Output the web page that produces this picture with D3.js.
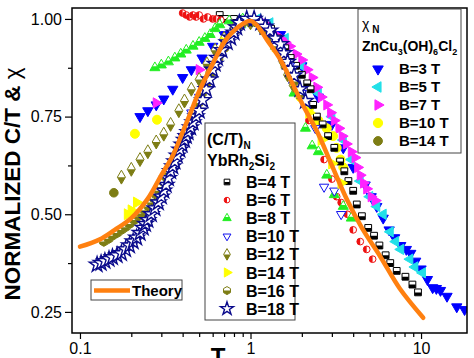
<!DOCTYPE html>
<html>
<head>
<meta charset="utf-8">
<script src="https://cdn.jsdelivr.net/npm/d3@7"></script>
<style>
  body { margin: 0; background: #fff; }
  svg text { font-family: "Liberation Sans", Arial, sans-serif; }
</style>
</head>
<body>
<div id="chart"></div>
<script>
// ---- data (T/T*, normalized value) ----
var xTicks = [0.1, 1, 10];
var xMinor = [0.2,0.3,0.4,0.5,0.6,0.7,0.8,0.9,2,3,4,5,6,7,8,9];
var yTicks = [0.25, 0.5, 0.75, 1.0];
var yMinor = [0.375, 0.625, 0.875];

var theoryT = [0.1,0.13,0.16,0.2,0.25,0.3,0.35,0.4,0.45,0.5,0.6,0.7,0.8,0.9,1.0,1.1,1.25,1.5,2.0,2.5,3.0,3.7,4.5,5.8,7.5,10.3];
var theoryY = [0.417,0.435,0.46,0.49,0.54,0.60,0.65,0.71,0.765,0.815,0.885,0.94,0.97,0.987,0.995,0.982,0.946,0.895,0.785,0.705,0.625,0.535,0.465,0.39,0.31,0.235];

// YbRh2Si2 (C/T)_N
var yb4 = [[0.66,1.01],[0.72,1.0],[0.8,1.0],[0.9,1.0],[1.0,0.995],[1.1,0.99],[1.2,0.985],[1.32,0.975],[1.45,0.95],[1.6,0.925],[1.72,0.90],[1.85,0.88],[2.0,0.857],[2.15,0.835],[2.25,0.82],[2.33,0.78],[2.45,0.75],[2.65,0.73],[2.85,0.70],[3.1,0.67],[3.35,0.635],[3.55,0.61],[3.75,0.585],[4.0,0.56],[4.2,0.525],[4.5,0.495],[4.9,0.465],[5.3,0.445],[5.7,0.42],[6.2,0.395],[6.6,0.375],[7.2,0.355],[8.1,0.34],[8.9,0.32],[9.6,0.30]];
var yb6 = [[0.40,1.015],[0.42,1.01],[0.44,1.005],[0.46,1.01],[0.48,1.005],[0.5,1.01],[0.53,1.0],[0.56,1.005],[0.6,1.0],[0.63,1.0],[0.67,0.997],[0.75,0.995],[0.9,0.995],[1.0,0.99],[1.3,0.95],[1.7,0.86],[2.2,0.74],[2.7,0.64],[3.0,0.59],[3.2,0.545],[3.4,0.53],[3.7,0.50],[4.0,0.46],[4.4,0.43],[4.8,0.41],[5.2,0.385]];
var yb8 = [[0.275,0.875],[0.3,0.882],[0.33,0.89],[0.36,0.90],[0.39,0.91],[0.42,0.92],[0.46,0.93],[0.5,0.94],[0.54,0.95],[0.58,0.96],[0.62,0.975],[0.66,0.985],[0.75,0.995],[0.9,1.0],[1.1,0.99],[1.4,0.93],[1.8,0.81],[2.1,0.72],[2.3,0.675],[2.5,0.66],[2.8,0.60],[3.1,0.55],[3.5,0.52],[3.9,0.49]];
var yb10 = [[0.3,0.56],[0.35,0.63],[0.4,0.70],[0.45,0.76],[0.5,0.80],[0.55,0.84],[0.6,0.88],[0.7,0.94],[0.8,0.97],[0.9,0.99],[1.0,1.0],[1.15,0.99],[1.3,0.965],[1.5,0.92],[1.7,0.88],[2.0,0.81],[2.4,0.72],[2.7,0.57],[3.1,0.56],[3.4,0.50]];
var yb12 = [[0.175,0.595],[0.2,0.615],[0.225,0.64],[0.25,0.66],[0.28,0.685],[0.31,0.705],[0.34,0.73],[0.38,0.765],[0.41,0.79],[0.45,0.82],[0.5,0.845],[0.555,0.885],[0.62,0.92],[0.7,0.95],[0.8,0.975],[0.9,0.99],[1.0,0.99],[1.15,0.977],[1.3,0.96],[1.43,0.94],[1.55,0.89],[1.65,0.857],[1.78,0.83],[1.96,0.805]];
var yb14 = [[0.19,0.50],[0.2,0.51],[0.215,0.53],[0.7,0.94],[1.0,0.995],[1.4,0.93],[1.8,0.84],[2.2,0.76],[2.6,0.69],[3.0,0.63],[3.4,0.58]];
var yb16 = [[0.138,0.43],[0.147,0.437],[0.155,0.445],[0.165,0.452],[0.175,0.46],[0.185,0.467],[0.195,0.475],[0.208,0.485],[0.22,0.495],[0.23,0.502],[0.24,0.51],[0.252,0.52],[0.264,0.53],[0.272,0.54],[0.28,0.55],[0.29,0.56],[0.30,0.57],[0.31,0.582],[0.32,0.595],[0.332,0.607],[0.345,0.62],[0.352,0.632],[0.36,0.645],[0.37,0.655],[0.38,0.665],[0.39,0.677],[0.40,0.69],[0.41,0.70],[0.42,0.71],[0.445,0.735],[0.47,0.76],[0.495,0.785],[0.52,0.81],[0.55,0.835],[0.58,0.86],[0.615,0.88],[0.65,0.90],[0.7,0.925],[0.75,0.95],[0.81,0.97],[0.88,0.985],[1.0,0.99],[1.2,0.97],[1.4,0.93],[1.6,0.88],[1.8,0.84]];
var yb18 = [[0.126,0.371],[0.133,0.375],[0.14,0.38],[0.148,0.385],[0.155,0.39],[0.165,0.395],[0.175,0.40],[0.185,0.41],[0.195,0.42],[0.205,0.43],[0.215,0.44],[0.225,0.452],[0.235,0.465],[0.242,0.475],[0.25,0.485],[0.262,0.5],[0.275,0.515],[0.288,0.53],[0.30,0.545],[0.31,0.56],[0.32,0.575],[0.33,0.592],[0.34,0.61],[0.35,0.622],[0.36,0.635],[0.372,0.65],[0.385,0.665],[0.397,0.678],[0.41,0.69],[0.42,0.70],[0.43,0.71],[0.445,0.722],[0.46,0.735],[0.48,0.75],[0.50,0.765],[0.525,0.792],[0.55,0.82],[0.575,0.845],[0.6,0.87],[0.62,0.885],[0.64,0.90],[0.68,0.92],[0.73,0.94],[0.765,0.952],[0.8,0.965],[0.83,0.978],[0.86,0.99],[0.95,1.0],[1.05,1.0],[1.15,0.99],[1.22,0.98],[1.3,0.97],[1.4,0.95],[1.5,0.935],[1.57,0.912],[1.65,0.89],[1.72,0.872],[1.8,0.855],[1.95,0.82],[2.1,0.79]];

// ZnCu3(OH)6Cl2 chi_N
var zn3 = [[0.225,0.75],[0.25,0.765],[0.28,0.78],[0.31,0.795],[0.35,0.82],[0.4,0.85],[0.45,0.87],[0.52,0.90],[0.6,0.93],[0.7,0.96],[0.85,0.985],[1.0,0.995],[1.2,0.99],[1.5,0.96],[2.0,0.88],[2.5,0.80],[3.0,0.73],[3.5,0.67],[4.0,0.62],[4.7,0.575],[5.1,0.545],[5.5,0.52],[6.0,0.49],[6.5,0.46],[7.0,0.44],[7.6,0.42],[8.2,0.41],[8.7,0.40],[9.3,0.38],[10,0.36],[10.9,0.333],[11.7,0.312],[12.3,0.31],[13,0.305],[14.2,0.29],[16.2,0.263],[18.0,0.256]];
var zn5 = [[0.9,0.99],[1.1,1.0],[1.3,0.99],[1.6,0.95],[2.0,0.88],[2.5,0.81],[3.0,0.75],[3.5,0.69],[3.9,0.64],[4.4,0.585],[5.0,0.545],[5.5,0.52],[6.0,0.50],[6.6,0.455],[7.1,0.43],[7.6,0.41],[8.6,0.385],[9.2,0.365],[10.2,0.35]];
var zn7 = [[0.28,0.785],[0.5,0.87],[1.2,0.99],[1.4,0.96],[1.5,0.95],[1.6,0.94],[1.7,0.93],[1.85,0.91],[2.0,0.895],[2.15,0.87],[2.3,0.85],[2.45,0.825],[2.6,0.80],[2.8,0.78],[2.95,0.76],[3.1,0.74],[3.3,0.72],[3.45,0.70],[3.65,0.68],[3.9,0.66],[4.1,0.645],[4.25,0.62],[4.4,0.60],[4.6,0.58],[4.8,0.565],[5.1,0.545],[5.4,0.535]];
var zn10 = [[0.21,0.706],[0.283,0.742],[1.7,0.86],[1.96,0.80],[2.2,0.77],[2.5,0.74],[2.8,0.72],[3.05,0.70],[3.2,0.67],[3.37,0.64],[3.5,0.62]];
var zn14 = [[0.158,0.555]];

var width = 474, height = 358;
var margin = {top: 8, right: 7, bottom: 25, left: 72};

var svg = d3.select("#chart").append("svg")
  .attr("width", width)
  .attr("height", height);

var defs = svg.append("defs");
defs.append("clipPath").attr("id", "lowerHalf").attr("clipPathUnits", "objectBoundingBox")
  .append("rect").attr("x", 0).attr("y", 0.5).attr("width", 1).attr("height", 0.5);
defs.append("clipPath").attr("id", "leftHalf").attr("clipPathUnits", "objectBoundingBox")
  .append("rect").attr("x", 0).attr("y", 0).attr("width", 0.5).attr("height", 1);
defs.append("clipPath").attr("id", "plotArea")
  .append("rect").attr("x", margin.left).attr("y", margin.top)
  .attr("width", width - margin.left - margin.right).attr("height", height - margin.top - margin.bottom);

var xScale = d3.scaleLog()
  .domain([0.0898, 18.6])
  .range([margin.left, width - margin.right]);

var yScale = d3.scaleLinear()
  .domain([0.196, 1.028])
  .range([height - margin.bottom, margin.top]);

var hexagon = {
  draw: function(ctx, size) {
    var r = Math.sqrt(size / 2.598);
    for (var i = 0; i < 6; i++) {
      var a = Math.PI / 3 * i - Math.PI / 2;
      if (i === 0) ctx.moveTo(r * Math.cos(a), r * Math.sin(a));
      else ctx.lineTo(r * Math.cos(a), r * Math.sin(a));
    }
    ctx.closePath();
  }
};

function addMarker(sel, s, size) {
  var d = d3.symbol().type(s.type).size(size || s.size)();
  sel.append("path")
    .attr("d", d)
    .attr("transform", "rotate(" + (s.rot || 0) + ")")
    .attr("fill", s.fill === "full" ? s.color : "#fff")
    .attr("stroke", s.color)
    .attr("stroke-width", s.sw || 1);
  if (s.fill === "lower" || s.fill === "left") {
    sel.append("path")
      .attr("d", d)
      .attr("fill", s.color)
      .attr("clip-path", "url(#" + s.fill + "Half)");
  }
}

var ybSeries = [
  {label: "B=4 T", data: yb4, type: d3.symbolSquare, size: 46, color: "#000", fill: "lower"},
  {label: "B=6 T", data: yb6, type: d3.symbolCircle, size: 36, color: "#ee1111", fill: "left"},
  {label: "B=8 T", data: yb8, type: d3.symbolTriangle, size: 44, color: "#22ee22", fill: "lower"},
  {label: "B=10 T", data: yb10, type: d3.symbolTriangle, size: 38, rot: 180, color: "#1111ee", fill: "open"},
  {label: "B=12 T", data: yb12, type: d3.symbolDiamond, size: 56, color: "#7d7d14", fill: "lower"},
  {label: "B=14 T", data: yb14, type: d3.symbolTriangle, size: 52, rot: 90, color: "#ffff00", fill: "full"},
  {label: "B=16 T", data: yb16, type: hexagon, size: 60, color: "#7d7d14", fill: "lower"},
  {label: "B=18 T", data: yb18, type: d3.symbolStar, size: 75, color: "#0a0a8c", fill: "open", sw: 1.4}
];

var znSeries = [
  {label: "B=3 T", data: zn3, type: d3.symbolTriangle, size: 46, rot: 180, color: "#0000ff", fill: "full"},
  {label: "B=5 T", data: zn5, type: d3.symbolTriangle, size: 46, rot: -90, color: "#22e0e8", fill: "full"},
  {label: "B=7 T", data: zn7, type: d3.symbolTriangle, size: 46, rot: 90, color: "#ff22ff", fill: "full"},
  {label: "B=10 T", data: zn10, type: d3.symbolCircle, size: 64, color: "#ffff00", fill: "full"},
  {label: "B=14 T", data: zn14, type: d3.symbolCircle, size: 58, color: "#7d7d14", fill: "full"}
];

var plot = svg.append("g").attr("clip-path", "url(#plotArea)");

znSeries.concat(ybSeries).forEach(function(s) {
  var g = plot.selectAll(null)
    .data(s.data)
    .enter()
    .append("g")
      .attr("transform", function(d) { return "translate(" + xScale(d[0]) + "," + yScale(d[1]) + ")"; });
  addMarker(g, s);
});

var theoryLine = d3.line()
  .x(function(d, i) { return xScale(theoryT[i]); })
  .y(function(d) { return yScale(d); })
  .curve(d3.curveCatmullRom);

plot.append("path")
  .datum(theoryY)
  .attr("d", theoryLine)
  .attr("fill", "none")
  .attr("stroke", "#ff8010")
  .attr("stroke-width", 4.5)
  .attr("stroke-linecap", "round");

// axes
var xAxis = svg.append("g")
  .attr("transform", "translate(0," + (height - margin.bottom) + ")")
  .call(d3.axisBottom(xScale).tickValues(xTicks).tickFormat(function(d) { return String(d); }).tickSize(6).tickSizeOuter(0).tickPadding(4));
svg.append("g")
  .attr("transform", "translate(0," + (height - margin.bottom) + ")")
  .call(d3.axisBottom(xScale).tickValues(xMinor).tickFormat("").tickSize(4).tickSizeOuter(0));

var yAxis = svg.append("g")
  .attr("transform", "translate(" + margin.left + ",0)")
  .call(d3.axisLeft(yScale).tickValues(yTicks).tickFormat(d3.format(".2f")).tickSize(7).tickSizeOuter(0).tickPadding(3));
svg.append("g")
  .attr("transform", "translate(" + margin.left + ",0)")
  .call(d3.axisLeft(yScale).tickValues(yMinor).tickFormat("").tickSize(4).tickSizeOuter(0));

svg.selectAll(".tick text").attr("font-size", 16).attr("fill", "#000")
  .style("font-family", "'Liberation Sans', Arial, sans-serif");
svg.selectAll(".tick line").attr("stroke-width", 1.2);
svg.selectAll(".domain").attr("stroke", "none");

svg.append("rect")
  .attr("x", margin.left).attr("y", margin.top)
  .attr("width", width - margin.left - margin.right)
  .attr("height", height - margin.top - margin.bottom)
  .attr("fill", "none").attr("stroke", "#000").attr("stroke-width", 1.5);

// axis labels
var yLabel = svg.append("text")
  .attr("transform", "rotate(-90)")
  .attr("x", -184)
  .attr("y", 20)
  .attr("text-anchor", "middle")
  .attr("font-size", 22.5)
  .attr("font-weight", "bold")
  .text("NORMALIZED  C/T & ");
yLabel.append("tspan").attr("font-weight", "normal").text("χ");

svg.append("text")
  .attr("x", 218)
  .attr("y", 365)
  .attr("text-anchor", "middle")
  .attr("font-size", 24)
  .attr("font-weight", "bold")
  .text("T");

// legend: ZnCu3(OH)6Cl2
var legZn = svg.append("g");
legZn.append("rect").attr("x", 358).attr("y", 9).attr("width", 103).attr("height", 144)
  .attr("fill", "#fff").attr("stroke", "#444").attr("stroke-width", 1);
var t1 = legZn.append("text").attr("x", 362).attr("y", 29).attr("font-size", 14);
t1.append("tspan").text("χ");
t1.append("tspan").attr("dx", 3).attr("dy", 4).attr("font-size", 10).attr("font-weight", "bold").text("N");
var t2 = legZn.append("text").attr("x", 362).attr("y", 51).attr("font-size", 14).attr("font-weight", "bold");
[["ZnCu", 0], ["3", 1], ["(OH)", 0], ["6", 1], ["Cl", 0], ["2", 1]].forEach(function(p, i, arr) {
  var prev = i > 0 ? arr[i - 1][1] : 0;
  t2.append("tspan").attr("dy", p[1] === prev ? 0 : (p[1] ? 4 : -4))
    .attr("font-size", p[1] ? 9 : 14).text(p[0]);
});
var znRows = [69, 87, 105, 123, 141];
znSeries.forEach(function(s, i) {
  var g = legZn.append("g").attr("transform", "translate(378," + znRows[i] + ")");
  addMarker(g, s, s.size * 1.05);
  legZn.append("text").attr("x", 399).attr("y", znRows[i] + 5)
    .attr("font-size", 15).attr("font-weight", "bold").text(s.label);
});

// legend: YbRh2Si2
var legYb = svg.append("g");
legYb.append("rect").attr("x", 205).attr("y", 123).attr("width", 90).attr("height", 197)
  .attr("fill", "#fff").attr("stroke", "#444").attr("stroke-width", 1);
var t3 = legYb.append("text").attr("x", 207).attr("y", 145).attr("font-size", 16).attr("font-weight", "bold");
t3.append("tspan").text("(C/T)");
t3.append("tspan").attr("dy", 4).attr("font-size", 10).text("N");
var t4 = legYb.append("text").attr("x", 207).attr("y", 166).attr("font-size", 16).attr("font-weight", "bold");
[["YbRh", 0], ["2", 1], ["Si", 0], ["2", 1]].forEach(function(p, i, arr) {
  var prev = i > 0 ? arr[i - 1][1] : 0;
  t4.append("tspan").attr("dy", p[1] === prev ? 0 : (p[1] ? 4 : -4))
    .attr("font-size", p[1] ? 10 : 16).text(p[0]);
});
ybSeries.forEach(function(s, i) {
  var y = 182 + i * 18.1;
  var g = legYb.append("g").attr("transform", "translate(227," + y + ")");
  addMarker(g, s, s.size * 0.7);
  legYb.append("text").attr("x", 246).attr("y", y + 6)
    .attr("font-size", 16).attr("font-weight", "bold").text(s.label);
});

// legend: theory
var legTh = svg.append("g");
legTh.append("rect").attr("x", 91).attr("y", 280).attr("width", 91).attr("height", 20)
  .attr("fill", "#fff").attr("stroke", "#444").attr("stroke-width", 1);
legTh.append("line").attr("x1", 94).attr("x2", 130).attr("y1", 290.5).attr("y2", 290.5)
  .attr("stroke", "#ff8010").attr("stroke-width", 4.5);
legTh.append("text").attr("x", 132).attr("y", 296).attr("font-size", 15).attr("font-weight", "bold").text("Theory");
</script>
</body>
</html>
